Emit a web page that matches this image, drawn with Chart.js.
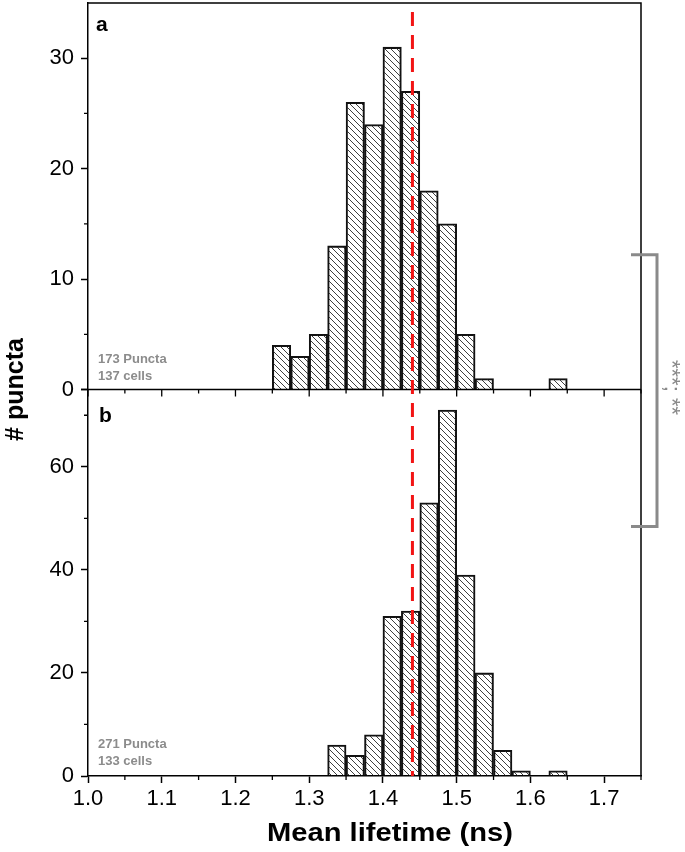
<!DOCTYPE html>
<html>
<head>
<meta charset="utf-8">
<script src="https://cdn.jsdelivr.net/npm/chart.js@4.4.0/dist/chart.umd.min.js"></script>
<style>
html, body { margin: 0; padding: 0; background: #fff; }
</style>
</head>
<body>
<canvas id="hist" width="685" height="852"></canvas>
<script>
// histogram bins (0.025 ns wide), centres in ns
var binCenters = [1.2625, 1.2875, 1.3125, 1.3375, 1.3625, 1.3875, 1.4125, 1.4375,
                  1.4625, 1.4875, 1.5125, 1.5375, 1.5625, 1.5875, 1.6125, 1.6375];
var countsA = [4, 3, 5, 13, 26, 24, 31, 27, 18, 15, 5, 1, 0, 0, 0, 1];
var countsB = [0, 0, 0, 6, 4, 8, 31, 32, 53, 71, 39, 20, 5, 1, 0, 1];

var xTicks = [1.0, 1.1, 1.2, 1.3, 1.4, 1.5, 1.6, 1.7];
var xMinor = [1.05, 1.15, 1.25, 1.35, 1.45, 1.55, 1.65, 1.75];
var yTicksA = [0, 10, 20, 30];
var yMinorA = [5, 15, 25];
var yTicksB = [0, 20, 40, 60];
var yMinorB = [10, 30, 50, 70];

var meanLine = 1.44;
var notesA = ['173 Puncta', '137 cells'];
var notesB = ['271 Puncta', '133 cells'];
var sigText = '***; **';

var FONT = "'Liberation Sans', Arial, sans-serif";

function makeHatch() {
  var c = document.createElement('canvas');
  c.width = 6; c.height = 6;
  var g = c.getContext('2d');
  g.strokeStyle = '#2a2a2a';
  g.lineWidth = 0.9;
  for (var k = -1; k <= 1; k++) {
    g.beginPath();
    g.moveTo(k * 6, 0);
    g.lineTo(k * 6 + 6, 6);
    g.stroke();
  }
  return g.createPattern(c, 'repeat');
}
var hatch = makeHatch();

function toPoints(vals) {
  return vals.map(function (v, i) { return { x: binCenters[i], y: v }; });
}

function tickSetter(list) {
  return function (scale) {
    scale.ticks = list.map(function (v) { return { value: v }; });
  };
}

var yCommon = {
  position: 'left',
  stack: 'panels',
  stackWeight: 1,
  grid: { drawOnChartArea: false, tickLength: 7, tickWidth: 1.5, tickColor: '#000' },
  border: { color: '#000', width: 1.5 },
  ticks: { font: { family: FONT, size: 22 }, color: '#000', padding: 7 },
  afterFit: function (s) { s.width = 88; s.paddingTop = 0; s.paddingBottom = 0; }
};

var panelDeco = {
  id: 'panelDeco',
  afterDatasetsDraw: function (chart) {
    var c = chart.ctx;
    var area = chart.chartArea;
    var x = chart.scales.x, yA = chart.scales.yA, yB = chart.scales.yB;
    var midY = yA.bottom;

    c.save();
    c.strokeStyle = '#000';
    c.lineWidth = 1.5;
    // frame top + right
    c.beginPath();
    c.moveTo(area.left, area.top);
    c.lineTo(area.right, area.top);
    c.lineTo(area.right, area.bottom);
    c.stroke();
    // axis line between the panels
    c.beginPath();
    c.moveTo(area.left - 7, midY);
    c.lineTo(area.right, midY);
    c.stroke();

    c.lineWidth = 1.3;
    c.beginPath();
    xTicks.forEach(function (v) {
      var px = x.getPixelForValue(v);
      c.moveTo(px, midY); c.lineTo(px, midY + 7);
    });
    xMinor.forEach(function (v) {
      var px = x.getPixelForValue(v);
      c.moveTo(px, midY); c.lineTo(px, midY + 4);
      c.moveTo(px, area.bottom); c.lineTo(px, area.bottom + 4);
    });
    yMinorA.forEach(function (v) {
      var py = yA.getPixelForValue(v);
      c.moveTo(area.left, py); c.lineTo(area.left - 4, py);
    });
    yMinorB.forEach(function (v) {
      var py = yB.getPixelForValue(v);
      c.moveTo(area.left, py); c.lineTo(area.left - 4, py);
    });
    c.stroke();

    // mean lifetime reference
    var mx = x.getPixelForValue(meanLine);
    c.strokeStyle = '#f21414';
    c.lineWidth = 3;
    c.setLineDash([14, 9]);
    c.beginPath();
    c.moveTo(mx, area.top + 9);
    c.lineTo(mx, area.bottom);
    c.stroke();
    c.setLineDash([]);

    // panel letters
    c.fillStyle = '#000';
    c.font = 'bold 21px ' + FONT;
    c.textAlign = 'left';
    c.textBaseline = 'alphabetic';
    c.fillText('a', area.left + 8, area.top + 28);
    c.fillText('b', area.left + 11, midY + 32);

    // counts
    c.fillStyle = '#8c8c8c';
    c.font = 'bold 13px ' + FONT;
    c.fillText(notesA[0], area.left + 10, midY - 27);
    c.fillText(notesA[1], area.left + 10, midY - 10);
    c.fillText(notesB[0], area.left + 10, area.bottom - 28);
    c.fillText(notesB[1], area.left + 10, area.bottom - 11);

    // significance bracket
    c.strokeStyle = '#8a8a8a';
    c.lineWidth = 3;
    var bx = area.right + 16;
    var bTop = yA.getPixelForValue(12.2);
    var bBot = yB.getPixelForValue(48.4);
    c.beginPath();
    c.moveTo(area.right - 10, bTop);
    c.lineTo(bx, bTop);
    c.lineTo(bx, bBot);
    c.lineTo(area.right - 10, bBot);
    c.stroke();
    c.save();
    c.translate(area.right + 24, midY - 2);
    c.rotate(Math.PI / 2);
    c.fillStyle = '#8a8a8a';
    c.font = '22px ' + FONT;
    c.textAlign = 'center';
    c.fillText(sigText, 0, 0);
    c.restore();

    // axis titles
    c.fillStyle = '#000';
    c.save();
    c.translate(23, (area.top + area.bottom) / 2);
    c.rotate(-Math.PI / 2);
    c.font = 'bold 25px ' + FONT;
    c.textAlign = 'center';
    c.fillText('# puncta', 0, 0);
    c.restore();

    c.save();
    c.translate(390, 841);
    c.scale(1.12, 1);
    c.font = 'bold 26px ' + FONT;
    c.textAlign = 'center';
    c.fillText('Mean lifetime (ns)', 0, 0);
    c.restore();

    c.restore();
  }
};

var ctx = document.getElementById('hist').getContext('2d');

var myChart = new Chart(ctx, {
  type: 'bar',
  data: {
    datasets: [{
      label: 'a',
      data: toPoints(countsA),
      yAxisID: 'yA',
      grouped: false,
      backgroundColor: hatch,
      borderColor: '#111',
      borderWidth: 1.4,
      barPercentage: 1,
      categoryPercentage: 1
    }, {
      label: 'b',
      data: toPoints(countsB),
      yAxisID: 'yB',
      grouped: false,
      backgroundColor: hatch,
      borderColor: '#111',
      borderWidth: 1.4,
      barPercentage: 1,
      categoryPercentage: 1
    }]
  },
  options: {
    responsive: false,
    animation: false,
    devicePixelRatio: 1,
    layout: { padding: { left: 0, right: 44, top: 3, bottom: 0 } },
    plugins: { legend: { display: false }, tooltip: { enabled: false } },
    scales: {
      x: {
        type: 'linear',
        min: 1.0,
        max: 1.75,
        offset: false,
        afterBuildTicks: tickSetter(xTicks),
        afterFit: function (s) { s.height = 76; s.paddingLeft = 0; s.paddingRight = 0; },
        grid: { offset: false, drawOnChartArea: false, tickLength: 7, tickWidth: 1.5, tickColor: '#000' },
        border: { color: '#000', width: 1.5 },
        ticks: {
          font: { family: FONT, size: 22 }, color: '#000', padding: 3,
          maxRotation: 0, autoSkip: false,
          callback: function (v) { return v.toFixed(1); }
        }
      },
      yB: Object.assign({}, yCommon, { min: 0, max: 75, afterBuildTicks: tickSetter(yTicksB) }),
      yA: Object.assign({}, yCommon, { min: 0, max: 35, afterBuildTicks: tickSetter(yTicksA) })
    }
  },
  plugins: [panelDeco]
});
</script>
</body>
</html>
